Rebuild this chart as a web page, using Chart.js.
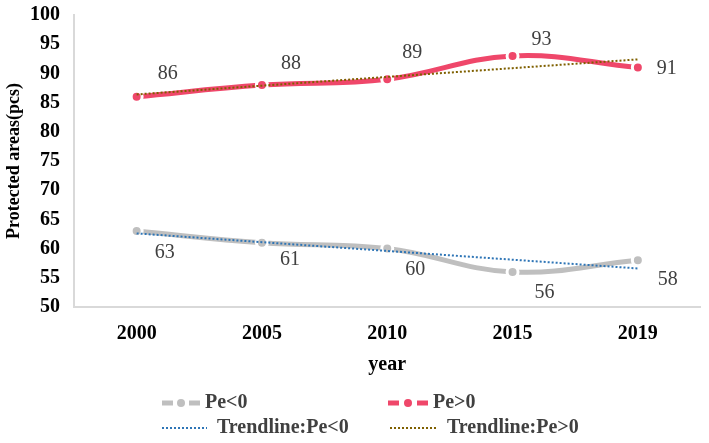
<!DOCTYPE html>
<html>
<head>
<meta charset="utf-8">
<script src="https://cdn.jsdelivr.net/npm/chart.js@4"></script>
<style>
  html, body { margin: 0; padding: 0; background: #fff; }
  #wrap { width: 709px; height: 443px; position: relative; }
</style>
</head>
<body>
<div id="wrap"><canvas id="chart"></canvas></div>
<script>
// values
const YEARS = ['2000', '2005', '2010', '2015', '2019'];
const PE_NEG = [63, 61, 60, 56, 58];
const PE_POS = [86, 88, 89, 93, 91];
const TREND_NEG = [62.6, 61.1, 59.6, 58.1, 56.6];
const TREND_POS = [86.4, 87.9, 89.4, 90.9, 92.4];
const SERIES_NAMES = ['Pe<0', 'Pe>0', 'Trendline:Pe<0', 'Trendline:Pe>0'];

const COLORS = {
  neg: '#bfbfbf',
  pos: '#ef476a',
  trendNeg: '#2e75b6',
  trendPos: '#7f6000',
  label: '#404040',
  axis: '#d9d9d9',
};
const SERIF = "'Liberation Serif', 'Times New Roman', serif";

// value labels next to each point (offsets in px from the point)
const valueLabels = {
  id: 'valueLabels',
  afterDatasetsDraw(chart, args, opts) {
    const ctx = chart.ctx;
    ctx.save();
    ctx.font = '20px ' + SERIF;
    ctx.fillStyle = COLORS.label;
    ctx.textAlign = 'center';
    ctx.textBaseline = 'middle';
    opts.offsets.forEach((offs, di) => {
      const meta = chart.getDatasetMeta(di);
      const data = chart.data.datasets[di].data;
      meta.data.forEach((pt, i) => {
        ctx.fillText(String(data[i]), pt.x + offs[i][0], pt.y + offs[i][1]);
      });
    });
    ctx.restore();
  },
};

// two-column legend under the x axis title
const gridLegend = {
  id: 'gridLegend',
  afterDraw(chart, args, opts) {
    const ctx = chart.ctx;
    ctx.save();
    ctx.font = 'bold 20px ' + SERIF;
    ctx.textBaseline = 'middle';
    opts.items.forEach((it) => {
      const ds = chart.data.datasets[it.index];
      const x = it.x, y = it.y;
      if (ds.borderDash && ds.borderDash.length) {
        ctx.strokeStyle = ds.borderColor;
        ctx.lineWidth = 2;
        ctx.setLineDash([2, 2]);
        ctx.beginPath();
        ctx.moveTo(x, y);
        ctx.lineTo(x + it.len, y);
        ctx.stroke();
      } else {
        ctx.setLineDash([]);
        ctx.strokeStyle = ds.borderColor;
        ctx.lineWidth = 5;
        ctx.beginPath();
        ctx.moveTo(x, y);
        ctx.lineTo(x + 11, y);
        ctx.moveTo(x + it.len - 11, y);
        ctx.lineTo(x + it.len, y);
        ctx.stroke();
        ctx.fillStyle = ds.borderColor;
        ctx.beginPath();
        ctx.arc(x + it.len / 2, y, 4, 0, Math.PI * 2);
        ctx.fill();
      }
      ctx.setLineDash([]);
      ctx.fillStyle = COLORS.label;
      ctx.fillText(ds.label, x + it.len + it.gap, y);
    });
    ctx.restore();
  },
};

const dataLine = (label, data, color) => ({
  label: label,
  data: data,
  borderColor: color,
  backgroundColor: color,
  borderWidth: 5,
  tension: 0.4,
  pointRadius: 5.5,
  pointBorderWidth: 3,
  pointBorderColor: '#ffffff',
  pointBackgroundColor: color,
  order: 2,
});

const trendLine = (label, data, color) => ({
  label: label,
  data: data,
  borderColor: color,
  backgroundColor: color,
  borderWidth: 2,
  borderDash: [2, 2],
  tension: 0,
  pointRadius: 0,
  order: 1,
});

new Chart(document.getElementById('chart'), {
  type: 'line',
  data: {
    labels: YEARS,
    datasets: [
      dataLine(SERIES_NAMES[0], PE_NEG, COLORS.neg),
      dataLine(SERIES_NAMES[1], PE_POS, COLORS.pos),
      trendLine(SERIES_NAMES[2], TREND_NEG, COLORS.trendNeg),
      trendLine(SERIES_NAMES[3], TREND_POS, COLORS.trendPos),
    ],
  },
  options: {
    responsive: true,
    maintainAspectRatio: false,
    animation: false,
    layout: { padding: { top: 15, right: 5, bottom: 66, left: 0 } },
    plugins: {
      legend: { display: false },
      tooltip: { enabled: false },
      valueLabels: {
        offsets: [
          [[28, 22], [28, 17], [28, 21], [32, 21], [30, 19]],
          [[31, -23], [29, -21], [25, -26], [29, -16], [29, 1]],
        ],
      },
      gridLegend: {
        items: [
          { index: 0, x: 162, y: 403, len: 38, gap: 5 },
          { index: 1, x: 388, y: 403, len: 40, gap: 5 },
          { index: 2, x: 162, y: 428, len: 45, gap: 10 },
          { index: 3, x: 390, y: 428, len: 47, gap: 10 },
        ],
      },
    },
    scales: {
      x: {
        offset: true,
        afterFit: (scale) => { scale.height = 70; },
        grid: { display: false, drawTicks: false },
        border: { color: COLORS.axis, width: 2 },
        ticks: {
          color: '#000',
          padding: 15,
          font: { family: SERIF, size: 20, weight: 'bold' },
        },
        title: {
          display: true,
          text: 'year',
          color: '#000',
          padding: { top: 7, bottom: 0 },
          font: { family: SERIF, size: 20, weight: 'bold' },
        },
      },
      y: {
        min: 50,
        max: 100,
        afterFit: (scale) => {
          scale.width = 74;
          scale.paddingTop = 0;
          scale.paddingBottom = 0;
        },
        grid: { display: false, drawTicks: false },
        border: { color: COLORS.axis, width: 2 },
        ticks: {
          stepSize: 5,
          autoSkip: false,
          color: '#000',
          padding: 14,
          font: { family: SERIF, size: 20, weight: 'bold' },
        },
        title: {
          display: true,
          text: 'Protected areas(pcs)',
          color: '#000',
          padding: { top: 4, bottom: 0 },
          font: { family: SERIF, size: 18, weight: 'bold' },
        },
      },
    },
  },
  plugins: [valueLabels, gridLegend],
});
</script>
</body>
</html>
